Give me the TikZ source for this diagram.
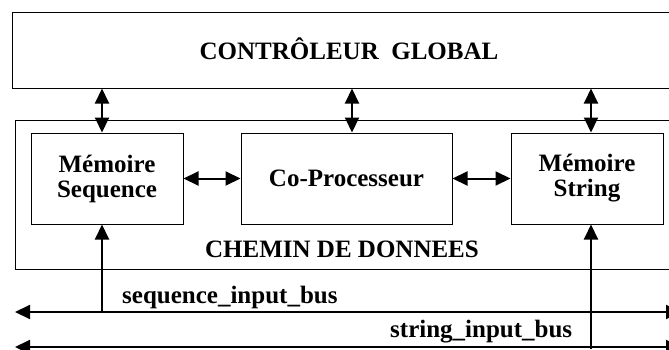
\documentclass[tikz,border=0pt]{standalone}
\usepackage{fontspec}
\setmainfont{Liberation Serif}
\usetikzlibrary{arrows.meta}

\begin{document}
\begin{tikzpicture}[x=1pt,y=1pt,
  bloc/.style={draw,line width=1pt,inner sep=0pt,align=center,font=\fontsize{25}{25}\selectfont\bfseries},
  etiq/.style={inner sep=0pt,font=\fontsize{25}{25}\selectfont\bfseries},
  lien/.style={line width=2pt,{Triangle[length=15pt,width=14pt]}-{Triangle[length=15pt,width=14pt]}},
  monte/.style={line width=2pt,-{Triangle[length=15pt,width=14pt]}}]
\useasboundingbox (0,0) rectangle (669,349);
\clip (0,0) rectangle (669,349);
\node[bloc,minimum width=674pt,minimum height=75pt,text height=17pt,text depth=0pt] (ctrl) at (349,298.5) {CONTRÔLEUR\ \ GLOBAL};
\node[bloc,minimum width=685pt,minimum height=149pt] (chemin) at (357.5,154.5) {};
\node[etiq] (cheminlbl) at (342,99.5) {CHEMIN DE DONNEES};
\node[bloc,minimum width=152pt,minimum height=91pt] (memseq) at (107,170.5) {Mémoire\\Sequence};
\node[bloc,minimum width=211pt,minimum height=91pt] (copro) at (346.5,170.5) {Co-Processeur};
\node[bloc,minimum width=152pt,minimum height=91pt] (memstr) at (587,170.5) {Mémoire\\String};
\coordinate (seqw) at (15,37);
\coordinate (seqe) at (681,37);
\coordinate (strw) at (15,2);
\coordinate (stre) at (681,2);
\draw[lien] (seqw) -- (seqe);
\draw[lien] (strw) -- (stre);
\node[etiq,anchor=base west] (seqlbl) at (122,46) {sequence\_input\_bus};
\node[etiq,anchor=base west] (strlbl) at (390,12) {string\_input\_bus};
\draw[lien] ([xshift=-5pt]memseq.north) -- ([xshift=-5pt]memseq.north |- ctrl.south);
\draw[lien] ([xshift=5.5pt]copro.north) -- ([xshift=5.5pt]copro.north |- ctrl.south);
\draw[lien] ([xshift=4pt]memstr.north) -- ([xshift=4pt]memstr.north |- ctrl.south);
\draw[lien] (memseq) -- (copro);
\draw[lien] (copro) -- (memstr);
\draw[monte] ([xshift=-5pt]memseq.south |- seqw) -- ([xshift=-5pt]memseq.south);
\draw[monte] ([xshift=4pt]memstr.south |- 0,0) -- ([xshift=4pt]memstr.south);
\end{tikzpicture}
\end{document}
